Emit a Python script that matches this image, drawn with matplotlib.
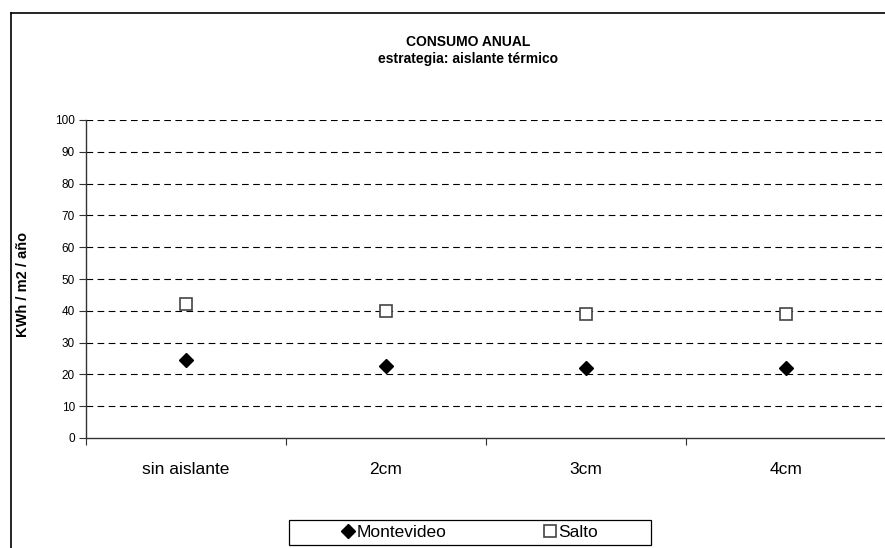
import matplotlib
matplotlib.use("Agg")
import matplotlib.pyplot as plt
from matplotlib.lines import Line2D
from matplotlib.patches import Rectangle

categories = ["sin aislante", "2cm", "3cm", "4cm"]
montevideo = [24.4, 22.6, 22.1, 21.9]
salto = [42.1, 40.0, 39.0, 39.0]
yticks = list(range(0, 101, 10))

plt.rcParams['font.family'] = ['Liberation Sans', 'DejaVu Sans']

W, H = 885, 548
fig = plt.figure(figsize=(W/100, H/100), dpi=100)
ax = fig.add_axes([86/W, 1-438/H, 800/W, (438-120)/H])

x = [i + 0.5 for i in range(len(categories))]
ax.plot(x, montevideo, linestyle='none', marker='D', markersize=7.5,
        color='black', label='Montevideo')
ax.plot(x, salto, linestyle='none', marker='s', markersize=8,
        markerfacecolor='white', markeredgecolor='#444444', markeredgewidth=1.2,
        label='Salto')

ax.set_xlim(0, len(categories))
ax.set_ylim(0, 100)
ax.set_yticks(yticks)
ax.set_yticklabels([str(v) for v in yticks], fontsize=8.5)
ax.set_xticks(range(len(categories) + 1))
ax.set_xticklabels([])
ax.set_xticks(x, minor=True)
ax.set_xticklabels(categories, minor=True, fontsize=12.5)
ax.tick_params(axis='x', which='minor', length=0, pad=17)
ax.tick_params(axis='x', which='major', length=5, direction='out', width=0.8, color='#333333')
ax.tick_params(axis='y', length=5, direction='out', width=0.8, color='#333333', pad=3)

for v in yticks[1:]:
    ax.axhline(v, color='black', linestyle=(0, (6, 4)), linewidth=0.8, zorder=0)

for s in ['top', 'right']:
    ax.spines[s].set_visible(False)
for s in ['left', 'bottom']:
    ax.spines[s].set_color('#333333')
    ax.spines[s].set_linewidth(1.0)

ax.set_ylabel("KWh / m2 / año", fontsize=10.5, fontweight='bold')
ax.yaxis.set_label_coords(-56/800, (438-284)/318)
ax.yaxis.label.set_va('bottom')

fig.text(468/W, 1-42/H, "CONSUMO ANUAL", ha='center', va='center',
         fontsize=10, fontweight='bold')
fig.text(468/W, 1-59/H, "estrategia: aislante térmico", ha='center', va='center',
         fontsize=10, fontweight='bold')

# chart area frame (top and left edges visible)
fig.add_artist(Line2D([11/W, 11/W], [0, 1-13/H], transform=fig.transFigure,
                      color='black', linewidth=1.2))
fig.add_artist(Line2D([11/W, 1], [1-13/H, 1-13/H], transform=fig.transFigure,
                      color='black', linewidth=1.2))

# legend
leg = fig.legend(loc='center', bbox_to_anchor=(470/W, 1-532.5/H), ncol=2,
                 fontsize=12.5, frameon=False,
                 handlelength=0.7, handletextpad=0.15, columnspacing=5.6,
                 borderpad=0.1, borderaxespad=0)
fig.add_artist(Rectangle((289/W, 1-545/H), (651-289)/W, 25/H,
                         transform=fig.transFigure, fill=False,
                         edgecolor='black', linewidth=0.9))

fig.savefig("out.png", dpi=100)
